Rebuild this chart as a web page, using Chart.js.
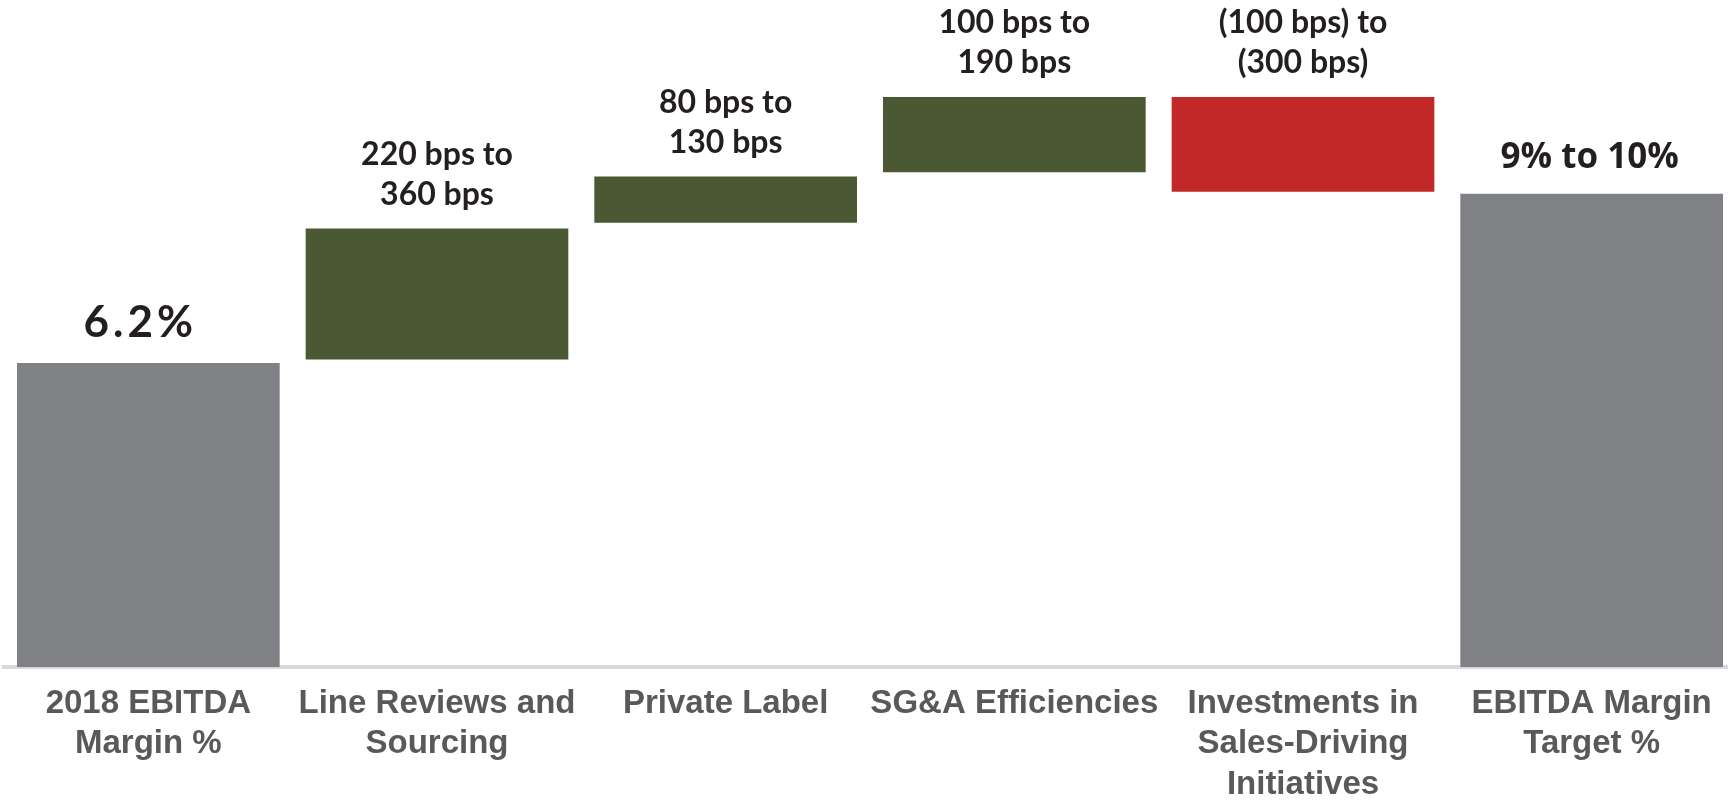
<!DOCTYPE html>
<html lang="en">
<head>
    <meta charset="UTF-8">
    <title>EBITDA Margin Bridge</title>
    <script src="https://cdn.jsdelivr.net/npm/chart.js"></script>
    <style>
        html, body { margin: 0; background: #fff; overflow: hidden; }
        .chart-box { width: 1736px; height: 800px; position: relative; }
    </style>
</head>
<body>
    <div class="chart-box">
        <canvas id="chartPonte"></canvas>
    </div>

    <script>
        // categories (multi-line axis labels)
        const categorias = [
            ['2018 EBITDA', 'Margin %'],
            ['Line Reviews and', 'Sourcing'],
            ['Private Label'],
            ['SG&A Efficiencies'],
            ['Investments in', 'Sales-Driving', 'Initiatives'],
            ['EBITDA Margin', 'Target %']
        ];
        // floating bar ranges [start, end] in % margin
        const inicio = [0, 6.27, 9.06, 10.09, 9.69, 0];
        const fim = [6.2, 8.94, 10.0, 11.62, 11.62, 9.65];
        // value labels shown above each bar
        const rotulos = [
            ['6.2%'],
            ['220 bps to', '360 bps'],
            ['80 bps to', '130 bps'],
            ['100 bps to', '190 bps'],
            ['(100 bps) to', '(300 bps)'],
            ['9% to 10%']
        ];
        const cores = ['#808185', '#4a5833', '#4a5833', '#4a5833', '#c22828', '#808185'];

        const faixas = inicio.map((v, i) => [v, fim[i]]);

        // draws the text above the bars
        const rotuloPlugin = {
            id: 'rotulos',
            afterDatasetsDraw(chart) {
                const ctx = chart.ctx;
                const meta = chart.getDatasetMeta(0);
                ctx.save();
                ctx.textAlign = 'center';
                ctx.textBaseline = 'middle';
                ctx.fillStyle = '#231f20';
                meta.data.forEach((bar, i) => {
                    const linhas = rotulos[i];
                    const topo = Math.min(bar.y, bar.base);
                    if (i === 0) {
                        ctx.font = 'bold 44px Lato';
                        ctx.letterSpacing = '4px';
                        ctx.fillText(linhas[0], bar.x - 8, topo - 40);
                        ctx.letterSpacing = '0px';
                        return;
                    }
                    if (i === meta.data.length - 1) {
                        // last one uses a wider face
                        ctx.font = 'bold 35px "Open Sans"';
                        ctx.fillText(linhas[0], bar.x - 2, topo - 36);
                        return;
                    }
                    ctx.font = 'bold 32px Lato';
                    for (let k = 0; k < linhas.length; k++) {
                        const y = topo - 34 - (linhas.length - 1 - k) * 40;
                        ctx.fillText(linhas[k], bar.x, y);
                    }
                });
                ctx.restore();
            }
        };

        const ctxPonte = document.getElementById('chartPonte').getContext('2d');
        const chartPonte = new Chart(ctxPonte, {
            type: 'bar',
            data: {
                labels: categorias,
                datasets: [{
                    data: faixas,
                    backgroundColor: cores,
                    borderWidth: 0,
                    barPercentage: 0.91,
                    categoryPercentage: 1
                }]
            },
            options: {
                responsive: true,
                maintainAspectRatio: false,
                animation: false,
                layout: { padding: { left: 4, right: 0, top: 0, bottom: 0 } },
                plugins: {
                    legend: { display: false },
                    tooltip: { enabled: false }
                },
                scales: {
                    y: {
                        display: false,
                        min: 0,
                        max: 13.6
                    },
                    x: {
                        grid: { display: false, drawTicks: false },
                        border: { display: true, color: '#d9d9d9', width: 4 },
                        // labels run off the bottom like in the slide
                        afterFit: function (scale) { scale.height = 133; },
                        ticks: {
                            autoSkip: false,
                            maxRotation: 0,
                            padding: 17,
                            color: '#58595b',
                            font: { family: 'Liberation Sans', size: 33, weight: 'bold', lineHeight: 1.22 }
                        }
                    }
                }
            },
            plugins: [rotuloPlugin]
        });
    </script>
</body>
</html>
